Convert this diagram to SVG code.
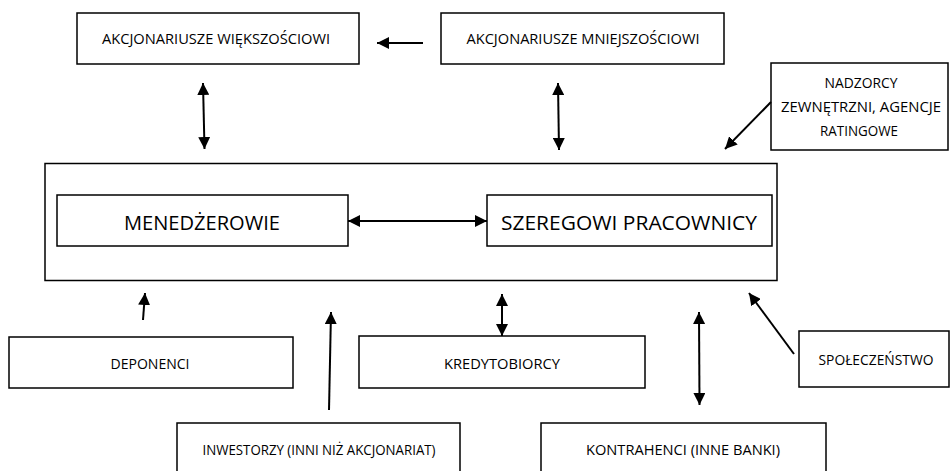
<svg xmlns="http://www.w3.org/2000/svg" width="950" height="471" viewBox="0 0 950 471">
  <style>
    .box { fill: #ffffff; stroke: #000000; stroke-width: 1.5; }
    .lbl { font-family: "Open Sans", Lato, "Liberation Sans", sans-serif; font-size: 15px; fill: #000000; text-anchor: middle; }
    .big { font-size: 20.5px; }
    .conn line { stroke: #000000; stroke-width: 2; }
    .one { marker-end: url(#head); }
    .two { marker-start: url(#head); marker-end: url(#head); }
  </style>
  <defs>
    <marker id="head" markerUnits="userSpaceOnUse" markerWidth="13" markerHeight="12" refX="12" refY="6" orient="auto-start-reverse" viewBox="0 0 13 12">
      <path d="M0,0 L12,6 L0,12 z" fill="#000000"/>
    </marker>
  </defs>
  <rect width="950" height="471" fill="#ffffff"/>

  <!-- bank: management and staff -->
  <g id="bank">
    <rect class="box" x="45" y="163.5" width="732" height="117"/>
  </g>
  <g id="menedzerowie">
    <rect class="box" x="57" y="195" width="291" height="51"/>
    <text class="lbl big" x="202" y="230" textLength="156" lengthAdjust="spacingAndGlyphs">MENEDŻEROWIE</text>
  </g>
  <g id="pracownicy">
    <rect class="box" x="487" y="195" width="285" height="51"/>
    <text class="lbl big" x="629" y="230" textLength="256" lengthAdjust="spacingAndGlyphs">SZEREGOWI PRACOWNICY</text>
  </g>

  <!-- stakeholders -->
  <g id="akcjonariusze-wiekszosciowi">
    <rect class="box" x="77" y="13" width="282" height="51"/>
    <text class="lbl" x="216" y="43.5" textLength="228" lengthAdjust="spacingAndGlyphs">AKCJONARIUSZE WIĘKSZOŚCIOWI</text>
  </g>
  <g id="akcjonariusze-mniejszosciowi">
    <rect class="box" x="441" y="13" width="283" height="51"/>
    <text class="lbl" x="583" y="44" textLength="233" lengthAdjust="spacingAndGlyphs">AKCJONARIUSZE MNIEJSZOŚCIOWI</text>
  </g>
  <g id="nadzorcy">
    <rect class="box" x="771" y="63" width="177" height="87"/>
    <text class="lbl" x="861" y="88" textLength="73" lengthAdjust="spacingAndGlyphs">NADZORCY</text>
    <text class="lbl" x="861" y="112" textLength="160" lengthAdjust="spacingAndGlyphs">ZEWNĘTRZNI, AGENCJE</text>
    <text class="lbl" x="859" y="136" textLength="78" lengthAdjust="spacingAndGlyphs">RATINGOWE</text>
  </g>
  <g id="deponenci">
    <rect class="box" x="9" y="337" width="284" height="51"/>
    <text class="lbl" x="150" y="369" textLength="79" lengthAdjust="spacingAndGlyphs">DEPONENCI</text>
  </g>
  <g id="kredytobiorcy">
    <rect class="box" x="359" y="336" width="286" height="52"/>
    <text class="lbl" x="502" y="369" textLength="116" lengthAdjust="spacingAndGlyphs">KREDYTOBIORCY</text>
  </g>
  <g id="spoleczenstwo">
    <rect class="box" x="799" y="331" width="150" height="56"/>
    <text class="lbl" x="876" y="365" textLength="115" lengthAdjust="spacingAndGlyphs">SPOŁECZEŃSTWO</text>
  </g>
  <g id="inwestorzy">
    <rect class="box" x="177" y="423" width="283" height="60"/>
    <text class="lbl" x="319" y="455" textLength="233" lengthAdjust="spacingAndGlyphs">INWESTORZY (INNI NIŻ AKCJONARIAT)</text>
  </g>
  <g id="kontrahenci">
    <rect class="box" x="541" y="423" width="285" height="60"/>
    <text class="lbl" x="683" y="455" textLength="194" lengthAdjust="spacingAndGlyphs">KONTRAHENCI (INNE BANKI)</text>
  </g>

  <!-- connectors -->
  <g id="connectors" class="conn">
    <line class="one" x1="423" y1="43" x2="377" y2="43"/>
    <line class="two" x1="203" y1="83" x2="204.5" y2="149"/>
    <line class="two" x1="558" y1="83" x2="559" y2="150"/>
    <line class="one" x1="771" y1="102" x2="725" y2="149"/>
    <line class="two" x1="348" y1="221" x2="487" y2="221"/>
    <line class="one" x1="143" y1="320" x2="145" y2="293"/>
    <line class="one" x1="329" y1="410" x2="331" y2="312"/>
    <line class="two" x1="502" y1="294" x2="502" y2="336"/>
    <line class="two" x1="699" y1="312" x2="699.5" y2="405"/>
    <line class="one" x1="794" y1="354" x2="749" y2="293"/>
  </g>
</svg>
